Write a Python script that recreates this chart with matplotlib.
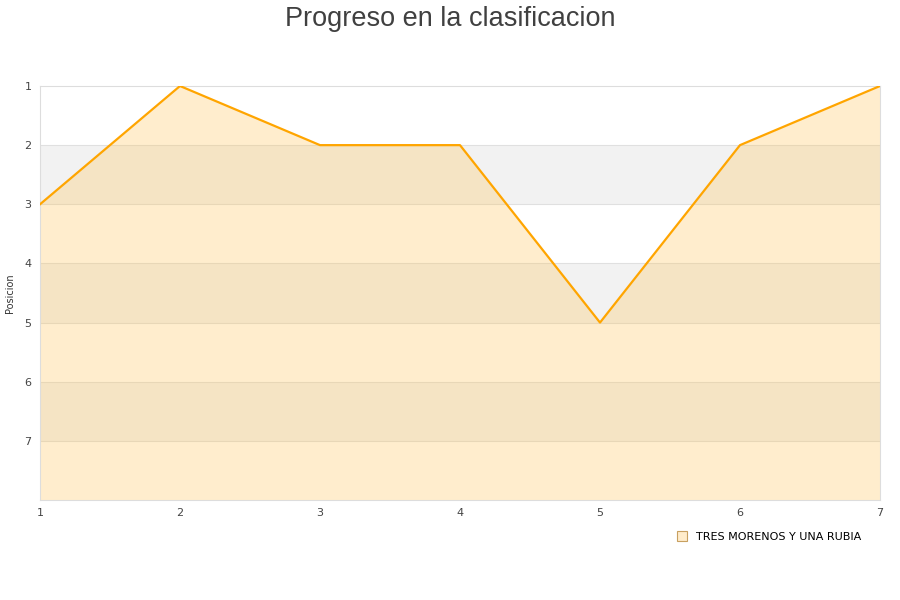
import numpy as np
import matplotlib.pyplot as plt
from matplotlib.lines import Line2D

# datos
jornadas = [1, 2, 3, 4, 5, 6, 7]
posicion = [3, 1, 2, 2, 5, 2, 1]
equipo = "TRES MORENOS Y UNA RUBIA"

fig = plt.figure(figsize=(9, 6), dpi=100)
ax = fig.add_axes([40 / 900, 100 / 600, 840 / 900, 414 / 600])

# bandas alternas
for i in range(1, 8):
    if i % 2 == 0:
        ax.axhspan(i, i + 1, color="#f2f2f2", zorder=0, lw=0)
for i in range(2, 8):
    ax.axhline(i, color="#e0e0e0", lw=0.8, zorder=1)

ax.fill_between(jornadas, posicion, 8, color="#ffc04d", alpha=0.28, lw=0, zorder=2)
ax.plot(jornadas, posicion, color="#ffa500", lw=1.6, zorder=3)

ax.set_xlim(1, 7)
ax.set_ylim(8, 1)
ax.set_yticks(range(1, 8))
ax.set_xticks(jornadas)
ax.tick_params(length=0, labelsize=8, colors="#444444", pad=6)
for s in ax.spines.values():
    s.set_color("#dddddd")
ax.set_ylabel("Posicion", fontsize=7, color="#333333", labelpad=7)

fig.text(0.5, 0.99, "Progreso en la clasificacion", ha="center", va="top",
         fontsize=19.5, color="#404040", family="Liberation Sans")

handle = Line2D([], [], marker="s", ls="", markersize=7,
                markerfacecolor="#ffeccb", markeredgecolor="#c8a060", markeredgewidth=0.8)
fig.legend([handle], [equipo], loc="center right", bbox_to_anchor=(0.968, 0.105),
           frameon=False, fontsize=8, handletextpad=0.3)

fig.savefig("out.png", dpi=100)
